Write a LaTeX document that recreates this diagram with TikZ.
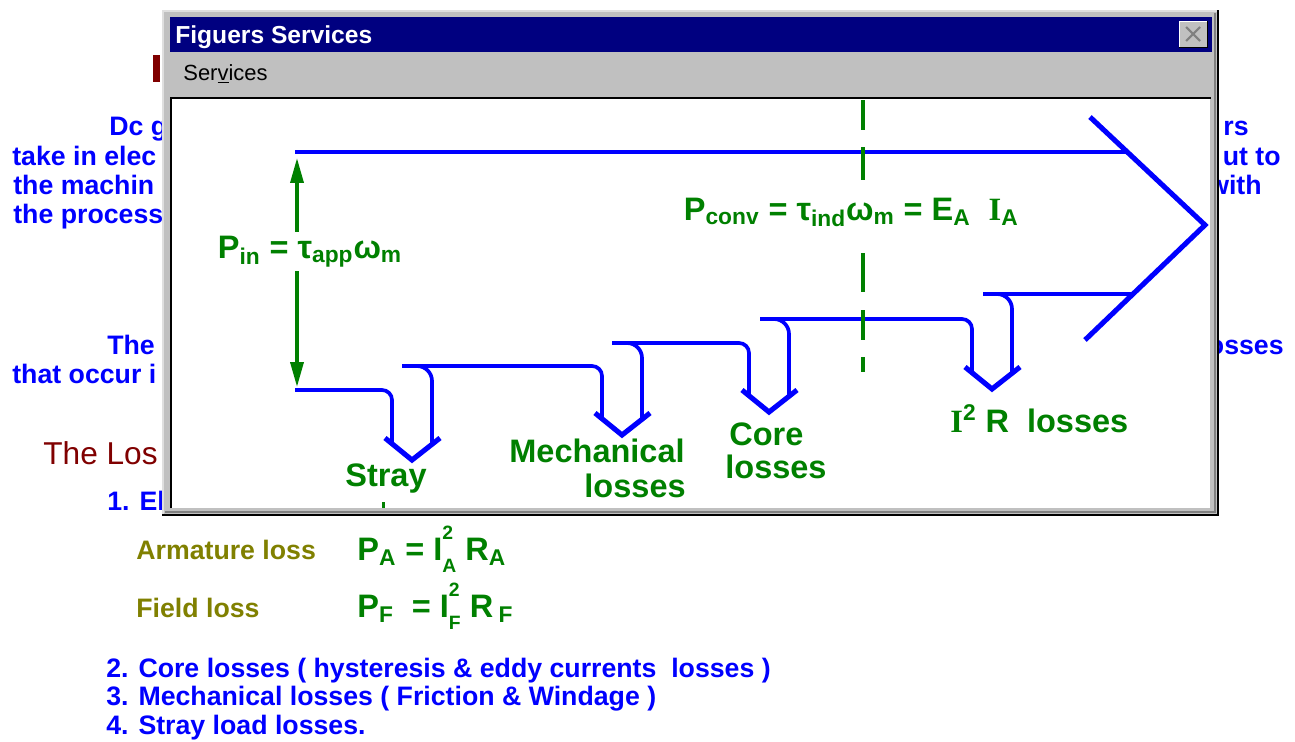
\documentclass[tikz,border=0pt]{standalone}
\usepackage{fontspec}
\setmainfont{Liberation Sans}
\newfontfamily\serifI{Liberation Serif}
\usetikzlibrary{arrows.meta}

\definecolor{winblue}{RGB}{0,0,255}
\definecolor{wingreen}{RGB}{0,128,0}
\definecolor{winnavy}{RGB}{0,0,128}
\definecolor{winmaroon}{RGB}{128,0,0}
\definecolor{winolive}{RGB}{128,128,0}
\definecolor{wingrey}{RGB}{192,192,192}
\definecolor{windark}{RGB}{128,128,128}
\definecolor{winlight}{RGB}{223,223,223}

\newcommand{\supsub}[2]{\rlap{\raisebox{0.62em}{\fontsize{11}{12}\selectfont #1}}%
    \raisebox{-0.38em}{\fontsize{11}{12}\selectfont #2}}

\begin{document}
\begin{tikzpicture}[x=0.02cm,y=-0.02cm]
    \tikzstyle{every node}=[inner sep=0pt]
    \tikzstyle{pagetext}=[text=winblue,font=\bfseries\fontsize{15.2}{18}\selectfont]
    \tikzstyle{lossnote}=[text=wingreen,font=\bfseries\fontsize{18.5}{20}\selectfont]
    \tikzstyle{flow}=[draw=winblue,line width=2.1pt]
    \tikzstyle{vtip}=[draw=winblue,line width=2.9pt]
    \tikzstyle{pinarrow}=[draw=wingreen,line width=2pt,
        {Triangle[length=0.5cm,width=0.26cm]}-{Triangle[length=0.5cm,width=0.26cm]}]
    \tikzstyle{shaft}=[draw=wingreen,line width=2.2pt]
    \useasboundingbox (0,0) rectangle (1295,741);

    % page text behind the window
    \fill[winmaroon] (153,55) rectangle (160,82);
    \node[pagetext,anchor=base west] (dc) at (109,135) {Dc g};
    \node[pagetext,anchor=base west] (take) at (12,165) {take in elec};
    \node[pagetext,anchor=base west] (mach) at (13,194) {the machin};
    \node[pagetext,anchor=base west] (proc) at (13,223) {the process};
    \node[pagetext,anchor=base east] (rs) at (1249,135) {rs};
    \node[pagetext,anchor=base east] (utto) at (1281,165) {ut to};
    \node[pagetext,anchor=base east] (with) at (1262,194) {with};
    \node[pagetext,anchor=base west] (the) at (107,354) {The};
    \node[pagetext,anchor=base west] (occur) at (12,383) {that occur i};
    \node[pagetext,anchor=base east] (osses) at (1284,354) {osses};
    \node[anchor=base west,text=winmaroon,font=\fontsize{18}{20}\selectfont]
        (lossttl) at (43,464) {The Los};
    \node[pagetext,anchor=base west] (one) at (107,510) {1. El};

    \node[pagetext,text=winolive,anchor=base west] (arm) at (136,559) {Armature loss};
    \node[lossnote,anchor=base west] (armeq) at (357,560)
        {P\textsubscript{A} = I\supsub{2}{A} R\textsubscript{A}};
    \node[pagetext,text=winolive,anchor=base west] (fld) at (136,617) {Field loss};
    \node[lossnote,anchor=base west] (fldeq) at (357,617)
        {P\textsubscript{F}~ = I\supsub{2}{F} R\,\textsubscript{F}};

    \node[pagetext,anchor=base west] (two) at (106,677)
        {2. Core losses ( hysteresis \& eddy currents~~losses )};
    \node[pagetext,anchor=base west] (three) at (106,705)
        {3. Mechanical losses ( Friction \& Windage )};
    \node[pagetext,anchor=base west] (four) at (106,734) {4. Stray load losses.};

    % window
    \fill[wingrey] (162,10) rectangle (1219,516);
    \draw[winlight,line width=1pt] (163,515) -- (163,11) -- (1218,11);
    \draw[windark,line width=1pt] (165,512) -- (1215,512) -- (1215,13);
    \draw[black,line width=1.2pt] (162,515) -- (1218,515) -- (1218,10);
    \fill[winnavy] (170,17) rectangle (1212,52);
    \node[anchor=base west,text=white,font=\bfseries\fontsize{14}{16}\selectfont]
        (title) at (175,43) {Figuers Services};
    \fill[wingrey] (1179,21) rectangle (1207,47);
    \draw[white] (1179,47) -- (1179,21) -- (1207,21);
    \draw[black] (1179,47) -- (1207,47) -- (1207,21);
    \draw[windark,line width=1.2pt] (1186,27) -- (1200,41) (1186,41) -- (1200,27);
    \node[anchor=base west,font=\fontsize{12.5}{14}\selectfont] (menu) at (183,80)
        {Ser\underline{v}ices};
    \fill[white] (170,97) rectangle (1210,508);
    \draw[black,line width=1.2pt] (171,508) -- (171,98) -- (1211,98);

    % power flow
    \coordinate (intop) at (295,152);
    \coordinate (inbot) at (295,390);
    \coordinate (outtop) at (1128,152);
    \coordinate (outbot) at (1133,294);

    \draw[flow] (intop) -- (outtop);
    \draw[vtip] (1090,117) -- (1205,225) -- (1085,340);

    \draw[flow,rounded corners=0.2cm] (inbot) -- (392,390) -- (392,443);
    \draw[flow,rounded corners=0.2cm] (402,366) -- (602,366) -- (602,418);
    \draw[flow,rounded corners=0.2cm] (612,343) -- (749,343) -- (749,395);
    \draw[flow,rounded corners=0.2cm] (760,319) -- (972,319) -- (972,372);
    \draw[flow] (983,294) -- (outbot);

    \draw[flow,rounded corners=0.3cm] (415,366) -- (432,366) -- (432,443);
    \draw[flow,rounded corners=0.3cm] (625,343) -- (642,343) -- (642,418);
    \draw[flow,rounded corners=0.3cm] (772,319) -- (789,319) -- (789,395);
    \draw[flow,rounded corners=0.3cm] (995,294) -- (1012,294) -- (1012,372);

    \draw[vtip] (385,438) -- (412,460) -- (440,438);
    \draw[vtip] (595,413) -- (622,435) -- (650,413);
    \draw[vtip] (742,390) -- (769,412) -- (797,390);
    \draw[vtip] (965,367) -- (992,389) -- (1020,367);

    % input power
    \draw[pinarrow,shorten <=0.12cm,shorten >=0.06cm]
        ([xshift=0.04cm]intop) -- ([xshift=0.04cm]inbot);
    \node[lossnote,fill=white,inner sep=2pt,anchor=base west] (pin) at (214,258)
        {P\textsubscript{in} = τ\textsubscript{app}ω\textsubscript{m}};

    % converted power
    \draw[shaft] (863,100) -- (863,130);
    \draw[shaft] (863,147) -- (863,180);
    \draw[shaft] (863,253) -- (863,292);
    \draw[shaft] (863,310) -- (863,340);
    \draw[shaft] (863,357) -- (863,372);
    \node[lossnote,fill=white,inner sep=2pt,anchor=base west] (pconv) at (680,220)
        {P\textsubscript{conv} = τ\textsubscript{ind}ω\textsubscript{m} = E\textsubscript{A}~~{\serifI I}\textsubscript{A}};

    % losses
    \node[lossnote,anchor=base] (stray) at (386,486) {Stray};
    \fill[wingreen] (382,502) rectangle (385,508);
    \node[lossnote,anchor=base east] (mech) at (685,462) {Mechanical};
    \node[lossnote,anchor=base east] (mechb) at (686,497) {losses};
    \node[lossnote,anchor=base west] (core) at (729,445) {Core};
    \node[lossnote,anchor=base west] (coreb) at (725,478) {losses};
    \node[lossnote,anchor=base west] (cu) at (950,432) {{\serifI I}\textsuperscript{2} R~~losses};

\end{tikzpicture}
\end{document}
